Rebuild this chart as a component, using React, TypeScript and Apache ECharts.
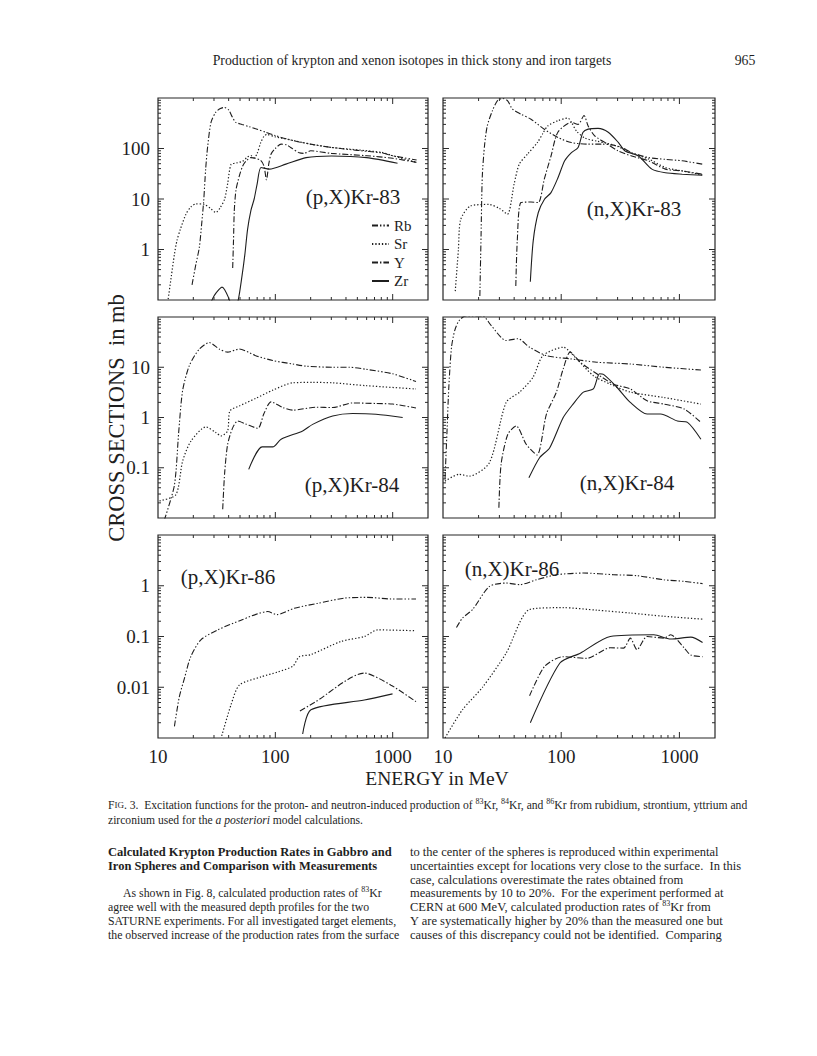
import React, { useEffect, useRef } from "react";
import * as echarts from "echarts";

// ---------- data (energy MeV, cross section mb) ----------
const elements = ["Rb", "Sr", "Y", "Zr"];
const xTickLabels = ["10", "100", "1000"];
const topYLabels = ["1", "10", "100"];
const midYLabels = ["0.1", "1", "10"];
const botYLabels = ["0.01", "0.1", "1"];

// (p,X)Kr-83
const p83Rb = [[19.5,0.2],[21,0.5],[22.5,1.1],[23.5,3],[24.5,9],[25.5,40],[26.5,110],[28.3,330],[31,520],[34,620],[36.7,650],[40,580],[43,420],[46,330],[52,300],[60,270],[70,240],[83,210],[100,180],[125,155],[160,135],[200,122],[300,105],[500,92],[800,82],[1000,72],[1600,59]];
const p83Sr = [[12.1,0.09],[13,0.3],[13.8,0.8],[14.5,1.5],[15.5,2.5],[17.3,5],[19.1,7],[21,8],[24.8,7.8],[28,6.5],[31.2,5.4],[34,6.8],[37,10],[39.2,20],[41.9,48],[47,52],[52.7,56],[58,68],[62,72],[66,65],[70,80],[75,130],[80,175],[85,190],[100,170],[130,150],[200,122],[300,105],[800,84],[1000,72],[1600,53]];
const p83Y = [[43.3,0.43],[44,1.5],[44.7,6],[46.2,15],[49.4,29],[52.7,45],[56,56],[62,66],[68,64],[75,58],[80,45],[84,24],[88,50],[92,78],[100,100],[112,122],[125,118],[135,105],[160,82],[175,80],[200,90],[300,80],[600,72],[1000,64],[1600,53]];
const p83Zr = [[27,0.07],[30,0.12],[33,0.16],[35.1,0.18],[37,0.16],[40,0.11],[42,0.08],[44,0.07],[47.8,0.09],[52,0.3],[55,0.8],[58,2.5],[62,6],[66,10],[70,20],[75.5,42],[88.9,39],[123,49],[183,66],[300,71],[600,66],[1100,51]];

// (n,X)Kr-83
const n83Rb = [[20.5,0.12],[21,2],[21.5,28],[22.5,120],[23.7,283],[26.2,560],[28.9,890],[31.8,980],[35.1,890],[38.7,605],[45.6,480],[55.5,380],[72,240],[94,165],[122,131],[169,122],[219,122],[267,118],[324,105],[395,83],[548,66],[760,61],[1055,57],[1560,49]];
const n83Sr = [[12.7,0.15],[13.5,1],[14.1,3.9],[17.1,7.3],[24.5,7.8],[30,6.5],[35.1,5],[40,20],[44.2,49],[52,78],[63,132],[70,200],[77,280],[93.7,355],[114,400],[122,330],[135,220],[160,160],[200,140],[250,125],[300,110],[400,80],[548,62],[760,42],[1055,36],[1560,30]];
const n83Y = [[41.3,0.19],[42.5,1.5],[45.6,8.5],[55.5,8.7],[64,8.5],[72,25],[82,71],[93.7,210],[122,330],[139,300],[156,450],[169,280],[192,178],[234,132],[304,89],[395,71],[548,57],[760,39],[1055,36],[1560,31]];
const n83Zr = [[54.8,0.23],[58,1.5],[64,5.4],[72,9.8],[82,13.4],[93.7,26],[107,57],[122,83],[139,105],[153,210],[169,242],[205,250],[250,210],[304,132],[347,89],[450,71],[585,39],[760,33],[1055,31],[1560,29.5]];

// (p,X)Kr-84
const p84Rb = [[11.3,0.009],[13.8,0.045],[15,0.5],[16.2,3.4],[18.5,10.8],[22.5,23],[27.4,31],[33.3,23],[39.2,20],[49.4,23],[68,17],[95,13.6],[141,11.6],[183,10.5],[308,10],[427,10],[593,9.1],[1000,7.4],[1580,5.2]];
const p84Sr = [[10.3,0.022],[14.2,0.029],[16.2,0.135],[19.1,0.34],[25.6,0.65],[31.2,0.5],[34.4,0.43],[39.2,0.54],[41,1.35],[49.4,1.7],[68,2.4],[95,3.5],[141,4.9],[208,5.0],[308,4.9],[593,4.3],[1580,3.7]];
const p84Y = [[35.6,0.015],[37,0.08],[39.2,0.29],[43,0.6],[47.8,0.85],[56,0.74],[71,0.61],[80,1.2],[92,2.05],[116,1.58],[141,1.4],[222,1.6],[308,1.58],[456,1.95],[721,1.9],[1000,1.85],[1580,1.55]];
const p84Zr = [[59.3,0.093],[77,0.26],[95,0.26],[112,0.37],[171,0.54],[208,0.73],[308,1.07],[456,1.2],[721,1.16],[1217,1.0]];

// (n,X)Kr-84
const n84Rb = [[10.4,0.06],[10.8,0.5],[11.2,4],[11.8,25],[12.6,55],[13.7,85],[15.6,105],[21.6,105],[25.5,68],[34.2,34],[43,37],[54,25],[75,17],[119,14.7],[200,12.6],[384,11.6],[740,10],[1520,8.8]];
const n84Sr = [[10.4,0.054],[13.7,0.074],[16.7,0.068],[24.7,0.126],[34.2,2.0],[44.5,3.2],[57.7,6.3],[70,17],[104,25],[135,14.7],[187,6.8],[260,4.6],[384,3.2],[740,2.5],[1520,1.85]];
const n84Y = [[29.7,0.016],[31,0.117],[35.3,0.46],[41.6,0.68],[50.7,0.29],[62.4,0.18],[75,1.17],[91,3.2],[104,9.3],[119,20],[145,12.6],[200,7.4],[277,4.6],[384,3.7],[533,2.15],[740,1.85],[1100,1.47],[1520,0.8]];
const n84Zr = [[53.3,0.063],[65.8,0.16],[80,0.25],[104,1.0],[126,1.85],[154,3.2],[187,3.7],[211,7.4],[228,7.2],[296,4.0],[384,2.0],[533,1.17],[692,1.17],[961,0.85],[1170,0.8],[1520,0.37]];

// (p,X)Kr-86
const p86Rb = [[13.8,0.0017],[15.2,0.0065],[16.8,0.015],[19,0.04],[23.2,0.086],[32.3,0.135],[51,0.21],[86,0.31],[103,0.27],[145,0.36],[229,0.45],[387,0.57],[612,0.59],[967,0.55],[1580,0.55]];
const p86Sr = [[34.9,0.0011],[41.9,0.0045],[49.3,0.011],[75.5,0.016],[105,0.02],[141,0.026],[160,0.04],[201,0.044],[363,0.08],[574,0.1],[745,0.135],[1580,0.13]];
const p86Y = [[162,0.0034],[215,0.005],[574,0.019],[967,0.011],[1580,0.0052]];
const p86Zr = [[171,0.0012],[201,0.0036],[574,0.0056],[997,0.0074]];

// (n,X)Kr-86
const n86Rb = [[13,0.15],[14.6,0.23],[17.8,0.34],[24.7,0.97],[34.2,1.13],[44.5,1.05],[61.6,1.31],[91.3,1.65],[154,1.78],[277,1.65],[438,1.58],[740,1.31],[1100,1.22],[1570,1.1]];
const n86Sr = [[10.4,0.001],[14.6,0.0036],[21.6,0.01],[34.2,0.047],[54,0.34],[104,0.37],[200,0.33],[384,0.29],[740,0.25],[1570,0.22]];
const n86Y = [[54,0.0068],[72.6,0.026],[104,0.04],[164,0.037],[260,0.06],[337,0.059],[384,0.093],[438,0.055],[533,0.1],[740,0.093],[843,0.108],[1100,0.059],[1250,0.043],[1570,0.04]];
const n86Zr = [[54.8,0.002],[97.5,0.03],[145,0.047],[260,0.1],[608,0.108],[843,0.089],[1250,0.097],[1570,0.076]];

// ---------- layout ----------
const SERIF = "'Liberation Serif', 'Times New Roman', serif";
const INK = "#1e1e1e";
const X_MIN = 10;
const X_MAX = 2000;
const colLeft = [158, 443];
const colWidth = [270, 272];
const rowTop = [98, 317, 535];
const rowHeight = [202, 201, 203];
const rows = [
  { yMin: 0.1, yMax: 1000, labels: topYLabels },
  { yMin: 0.01, yMax: 100, labels: midYLabels },
  { yMin: 0.001, yMax: 10, labels: botYLabels },
];
const panels = [
  { row: 0, col: 0, title: "(p,X)Kr-83", tx: 353, ty: 197, data: [p83Rb, p83Sr, p83Y, p83Zr] },
  { row: 0, col: 1, title: "(n,X)Kr-83", tx: 634, ty: 209, data: [n83Rb, n83Sr, n83Y, n83Zr] },
  { row: 1, col: 0, title: "(p,X)Kr-84", tx: 352, ty: 485, data: [p84Rb, p84Sr, p84Y, p84Zr] },
  { row: 1, col: 1, title: "(n,X)Kr-84", tx: 627, ty: 483, data: [n84Rb, n84Sr, n84Y, n84Zr] },
  { row: 2, col: 0, title: "(p,X)Kr-86", tx: 228, ty: 577, data: [p86Rb, p86Sr, p86Y, p86Zr] },
  { row: 2, col: 1, title: "(n,X)Kr-86", tx: 512, ty: 569, data: [n86Rb, n86Sr, n86Y, n86Zr] },
];
const dashes: Record<string, any> = {
  Rb: [6, 2, 1.4, 2, 1.4, 2],
  Sr: [1.3, 2],
  Y: [6, 2, 1.4, 2],
  Zr: "solid",
};

const sameVal = (a: number, b: number) => Math.abs(Math.log10(a) - Math.log10(b)) < 1e-6;

function tickData(yMin: number, yMax: number) {
  const d: number[][] = [];
  for (let e = 1; e <= 3; e++) {
    for (let m = 1; m <= 9; m++) {
      const v = m * Math.pow(10, e);
      if (v <= X_MIN * 1.0001 || v >= X_MAX * 0.9999) continue;
      d.push([v, yMin, m === 1 ? 0 : 1]);
    }
  }
  const lo = Math.round(Math.log10(yMin));
  const hi = Math.round(Math.log10(yMax));
  for (let e = lo; e < hi; e++) {
    for (let m = 1; m <= 9; m++) {
      const v = m * Math.pow(10, e);
      if (v <= yMin * 1.0001) continue;
      d.push([X_MIN, v, m === 1 ? 2 : 3]);
    }
  }
  return d;
}

function buildOption() {
  const grid: any[] = [];
  const xAxis: any[] = [];
  const yAxis: any[] = [];
  const series: any[] = [];
  const graphic: any[] = [];

  panels.forEach((p, i) => {
    const r = rows[p.row];
    grid.push({
      left: colLeft[p.col],
      top: rowTop[p.row],
      width: colWidth[p.col],
      height: rowHeight[p.row],
      show: true,
      borderColor: "#262626",
      borderWidth: 1.2,
      backgroundColor: "transparent",
      containLabel: false,
    });
    xAxis.push({
      type: "log",
      gridIndex: i,
      min: X_MIN,
      max: X_MAX,
      axisLine: { show: false },
      axisTick: { show: false },
      splitLine: { show: false },
      axisLabel:
        p.row === 2
          ? {
              show: true,
              margin: 9,
              fontFamily: SERIF,
              fontSize: 19,
              color: INK,
              formatter: (v: number) => xTickLabels.find((s) => sameVal(Number(s), v)) ?? "",
            }
          : { show: false },
    });
    yAxis.push({
      type: "log",
      gridIndex: i,
      min: r.yMin,
      max: r.yMax,
      axisLine: { show: false },
      axisTick: { show: false },
      splitLine: { show: false },
      axisLabel:
        p.col === 0
          ? {
              show: true,
              margin: 8,
              fontFamily: SERIF,
              fontSize: 19,
              color: INK,
              formatter: (v: number) => r.labels.find((s) => sameVal(Number(s), v)) ?? "",
            }
          : { show: false },
    });
    p.data.forEach((d, k) => {
      series.push({
        type: "line",
        name: elements[k],
        xAxisIndex: i,
        yAxisIndex: i,
        data: d,
        symbol: "none",
        smooth: 0.25,
        clip: true,
        lineStyle: { color: INK, width: k === 1 ? 1.2 : 1.1, type: dashes[elements[k]] },
        silent: true,
      });
    });
    const yMin = r.yMin;
    const yMax = r.yMax;
    series.push({
      type: "custom",
      xAxisIndex: i,
      yAxisIndex: i,
      silent: true,
      z: 4,
      data: tickData(yMin, yMax),
      renderItem: (params: any, api: any) => {
        const v0 = api.value(0);
        const v1 = api.value(1);
        const kind = api.value(2);
        const len = kind === 0 || kind === 2 ? 6 : 3;
        const st = { stroke: "#2a2a2a", lineWidth: 1 };
        if (kind < 2) {
          const b = api.coord([v0, yMin]);
          const t = api.coord([v0, yMax]);
          return {
            type: "group",
            children: [
              { type: "line", shape: { x1: b[0], y1: b[1], x2: b[0], y2: b[1] - len }, style: st },
              { type: "line", shape: { x1: t[0], y1: t[1], x2: t[0], y2: t[1] + len }, style: st },
            ],
          };
        }
        const l = api.coord([X_MIN, v1]);
        const rr = api.coord([X_MAX, v1]);
        return {
          type: "group",
          children: [
            { type: "line", shape: { x1: l[0], y1: l[1], x2: l[0] + len, y2: l[1] }, style: st },
            { type: "line", shape: { x1: rr[0], y1: rr[1], x2: rr[0] - len, y2: rr[1] }, style: st },
          ],
        };
      },
    });
    graphic.push({
      type: "text",
      x: p.tx,
      y: p.ty,
      silent: true,
      style: {
        text: p.title,
        fontFamily: SERIF,
        fontSize: 21,
        fill: INK,
        align: "center",
        verticalAlign: "middle",
      },
    });
  });

  const supRich = {
    s: { fontSize: 8, verticalAlign: "top", lineHeight: 8, fontFamily: SERIF, fill: INK },
    b: { fontSize: 12.5, fontFamily: SERIF, fontWeight: "bold", fill: INK, lineHeight: 16 },
    i: { fontSize: 11.6, fontFamily: SERIF, fontStyle: "italic", fill: INK, lineHeight: 15 },
    sm: { fontSize: 9, fontFamily: SERIF, fill: INK, lineHeight: 15 },
  };
  const txt = (text: string, x: number, y: number, opts: any = {}) => ({
    type: "text",
    x,
    y,
    silent: true,
    style: {
      text,
      fontFamily: SERIF,
      fontSize: 12.5,
      lineHeight: 16,
      fill: INK,
      align: "left",
      verticalAlign: "middle",
      rich: supRich,
      ...opts,
    },
  });
  const L = { fontSize: 11.8 };
  const R = { fontSize: 12.5 };

  graphic.push(
    txt("Production of krypton and xenon isotopes in thick stony and iron targets", 412, 60, { align: "center", fontSize: 13.8 }),
    txt("965", 745, 60, { align: "center", fontSize: 13.8 }),
    {
      type: "text",
      x: 116,
      y: 418,
      rotation: Math.PI / 2,
      silent: true,
      style: {
        text: "CROSS SECTIONS  in mb",
        fontFamily: SERIF,
        fontSize: 22.5,
        fill: INK,
        align: "center",
        verticalAlign: "middle",
      },
    },
    {
      type: "text",
      x: 437,
      y: 778,
      silent: true,
      style: {
        text: "ENERGY in MeV",
        fontFamily: SERIF,
        fontSize: 19.5,
        fill: INK,
        align: "center",
        verticalAlign: "middle",
      },
    },
    txt(
      "F{sm|IG}. 3.  Excitation functions for the proton- and neutron-induced production of {s|83}Kr, {s|84}Kr, and {s|86}Kr from rubidium, strontium, yttrium and",
      108,
      805,
      { fontSize: 11.6, lineHeight: 15 }
    ),
    txt("zirconium used for the {i|a posteriori} model calculations.", 108, 820, { fontSize: 11.6, lineHeight: 15 }),
    txt("{b|Calculated Krypton Production Rates in Gabbro and}", 108, 852),
    txt("{b|Iron Spheres and Comparison with Measurements}", 108, 866),
    txt("As shown in Fig. 8, calculated production rates of {s|83}Kr", 123, 893, L),
    txt("agree well with the measured depth profiles for the two", 108, 907, L),
    txt("SATURNE experiments. For all investigated target elements,", 108, 921, L),
    txt("the observed increase of the production rates from the surface", 108, 935, L),
    txt("to the center of the spheres is reproduced within experimental", 410, 852, R),
    txt("uncertainties except for locations very close to the surface.  In this", 410, 866, R),
    txt("case, calculations overestimate the rates obtained from", 410, 880, R),
    txt("measurements by 10 to 20%.  For the experiment performed at", 410, 893, R),
    txt("CERN at 600 MeV, calculated production rates of {s|83}Kr from", 410, 907, R),
    txt("Y are systematically higher by 20% than the measured one but", 410, 921, R),
    txt("causes of this discrepancy could not be identified.  Comparing", 410, 935, R)
  );

  return {
    animation: false,
    backgroundColor: "#ffffff",
    grid,
    xAxis,
    yAxis,
    series,
    graphic,
    legend: {
      data: elements,
      orient: "vertical",
      left: 366,
      top: 213,
      itemWidth: 17,
      itemHeight: 2,
      itemGap: 3.5,
      selectedMode: false,
      textStyle: { fontFamily: SERIF, fontSize: 15, color: INK },
      itemStyle: { opacity: 0 },
    },
  };
}

export default function App() {
  const ref = useRef<HTMLDivElement>(null);
  useEffect(() => {
    if (!ref.current) return;
    const chart = echarts.init(ref.current, undefined, { renderer: "svg" });
    chart.setOption(buildOption() as any);
    return () => chart.dispose();
  }, []);
  return (
    <div
      ref={ref}
      style={{ position: "absolute", left: 0, top: 0, width: 817, height: 1056, background: "#fff" }}
    />
  );
}
